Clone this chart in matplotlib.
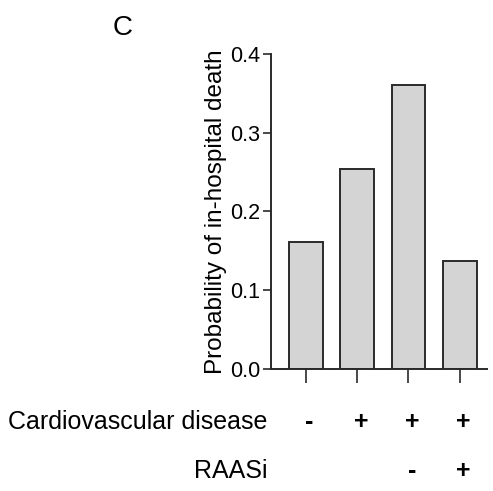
import matplotlib
matplotlib.use("Agg")
import matplotlib.pyplot as plt
from matplotlib.transforms import blended_transform_factory

plt.rcParams["font.family"] = ["Liberation Sans", "DejaVu Sans"]

# data
groups = [0, 1, 2, 3]
probability = [0.161, 0.254, 0.361, 0.137]
cvd_signs = ["-", "+", "+", "+"]
raasi_signs = ["", "", "-", "+"]
yticks = [0.0, 0.1, 0.2, 0.3, 0.4]

fig = plt.figure(figsize=(4.93, 4.91), dpi=100)
ax = fig.add_axes([0.5497, 0.2485, 0.438, 0.6415])

ax.bar(groups, probability, width=0.66, color="#d4d4d4",
       edgecolor="#2a2a2a", linewidth=1.4)

ax.set_ylim(0, 0.4)
ax.set_xlim(-0.68, 3.53)
ax.set_yticks(yticks)
ax.set_yticklabels([f"{v:.1f}" for v in yticks], fontsize=15.5)
ax.set_xticks(groups)
ax.set_xticklabels([])
ax.tick_params(axis="y", length=6, width=1.2, color="#2a2a2a", pad=2)
ax.tick_params(axis="x", length=10, width=1.2, color="#2a2a2a")

for side in ("top", "right"):
    ax.spines[side].set_visible(False)
for side in ("left", "bottom"):
    ax.spines[side].set_linewidth(1.4)
    ax.spines[side].set_color("#2a2a2a")

ax.set_ylabel("Probability of in-hospital death", fontsize=17.5, labelpad=2)

# condition table under the bars
trans = blended_transform_factory(ax.transData, fig.transFigure)
row_y = [1 - 422 / 491, 1 - 471 / 491]
for i, (s1, s2) in enumerate(zip(cvd_signs, raasi_signs)):
    ax.text(groups[i] + 0.07, row_y[0], s1, transform=trans, fontsize=18,
            fontweight="bold", ha="center", va="center")
    ax.text(groups[i] + 0.07, row_y[1], s2, transform=trans, fontsize=18,
            fontweight="bold", ha="center", va="center")
fig.text(267 / 493, row_y[0], "Cardiovascular disease", fontsize=18,
         ha="right", va="center")
fig.text(267 / 493, row_y[1], "RAASi", fontsize=18, ha="right", va="center")

fig.text(123 / 493, 1 - 28 / 491, "C", fontsize=20, ha="center", va="center")

plt.savefig("out.png", dpi=100)
